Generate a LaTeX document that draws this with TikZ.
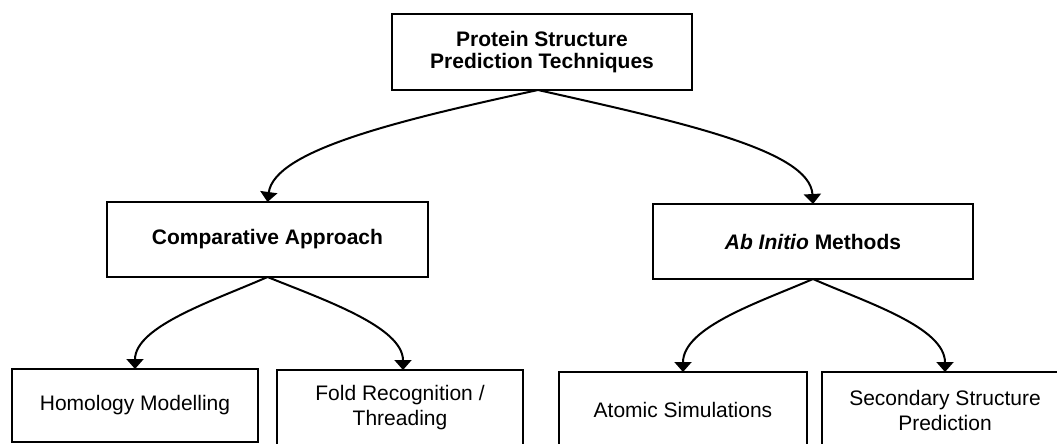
\documentclass[tikz,border=0pt]{standalone}
\usepackage{fontspec}
\setmainfont{Liberation Sans}
\usetikzlibrary{arrows.meta}
\begin{document}
\begin{tikzpicture}[x=1pt,y=-1pt,
  box/.style={draw, line width=2pt, inner sep=0pt, outer sep=0pt, anchor=north west, align=center, font=\fontsize{21}{25}\selectfont},
  hbox/.style={box, font=\fontsize{21}{22}\selectfont\bfseries},
  conn/.style={line width=2pt, -{Triangle[width=17pt,length=10pt]}}]
\useasboundingbox (0,0) rectangle (1057,444);
\clip (0,0) rectangle (1057,444);
\node[hbox, minimum width=300, minimum height=76] (top) at (392,14) {Protein Structure\\Prediction Techniques};
\node[hbox, minimum width=321, minimum height=75] (comp) at (107,202) {Comparative Approach};
\node[hbox, minimum width=320, minimum height=75] (ab) at (653,204) {\textit{Ab Initio} Methods};
\node[box, minimum width=246, minimum height=73] (hom) at (12,369) {Homology Modelling};
\node[box, minimum width=246, minimum height=76] (fold) at (277,370) {Fold Recognition /\\Threading};
\node[box, minimum width=248, minimum height=76] (atom) at (559,372) {Atomic Simulations};
\node[box, minimum width=246, minimum height=76] (sec) at (822,372) {Secondary Structure\\Prediction};
\draw[conn] ([xshift=-4pt]top.south) .. controls +(-138,30) and +(7,-52) .. (comp.north);
\draw[conn] ([xshift=-4pt]top.south) .. controls +(142,32) and +(-3,-54) .. (ab.north);
\draw[conn] (comp.south) .. controls +(-52,23) and +(0,-43) .. (hom.north);
\draw[conn] (comp.south) .. controls +(57,23) and +(0,-43) .. ([xshift=3pt]fold.north);
\draw[conn] (ab.south) .. controls +(-53,23) and +(0,-45) .. (atom.north);
\draw[conn] (ab.south) .. controls +(52,23) and +(0,-45) .. (sec.north);
\end{tikzpicture}
\end{document}
